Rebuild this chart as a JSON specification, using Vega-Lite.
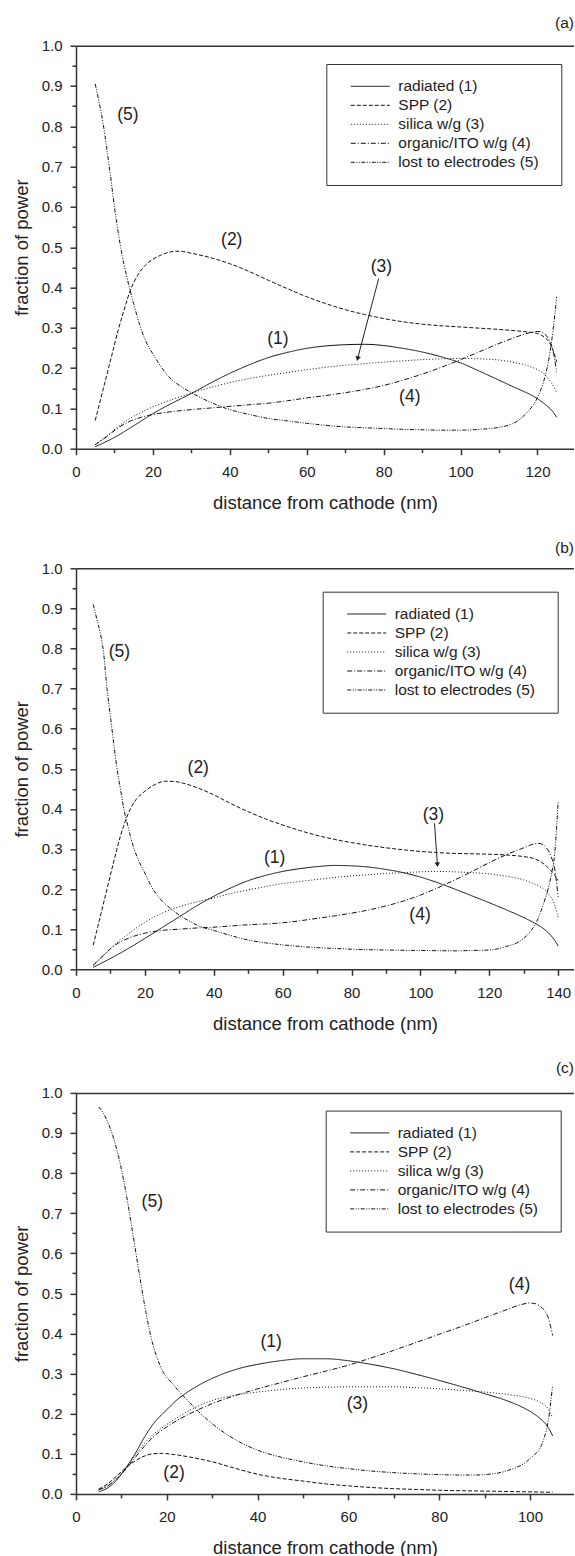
{
"$schema": "https://vega.github.io/schema/vega-lite/v6.json",
"padding": {"left": 12, "top": 15.7, "right": 0, "bottom": 0},
"background": "white",
"spacing": 27.6,
"config": {
  "font": "Liberation Sans",
  "view": {"stroke": null},
  "axis": {"domainColor": "#333", "domainWidth": 1.5, "tickColor": "#333", "tickWidth": 1.5, "labelColor": "#222", "labelFontSize": 15, "titleFontSize": 18.5, "titleFontWeight": "normal", "titleColor": "#222", "grid": false, "labelFont": "Liberation Sans", "titleFont": "Liberation Sans"},
  "title": {"fontSize": 15.5, "fontWeight": "normal", "anchor": "end", "color": "#222", "offset": 6.7, "font": "Liberation Sans"},
  "legend": {"orient": "none", "padding": 13, "strokeColor": "#333", "fillColor": "white", "symbolType": "stroke", "symbolSize": 1521, "symbolStrokeWidth": 1, "symbolStrokeColor": "#111", "labelFontSize": 15.5, "labelColor": "#222", "labelFont": "Liberation Sans", "clipHeight": 18.6, "rowPadding": 0, "symbolOffset": 11, "labelOffset": 8, "titleOrient": "right", "titlePadding": 2, "titleFontSize": 14, "titleOpacity": 0}
},
"resolve": {"scale": {"strokeDash": "independent"}, "legend": {"strokeDash": "independent"}},
"datasets": {
"a": [
{"x":5,"y":0.005,"s":"radiated (1)"},{"x":10,"y":0.028,"s":"radiated (1)"},{"x":15,"y":0.057,"s":"radiated (1)"},{"x":20,"y":0.087,"s":"radiated (1)"},{"x":25,"y":0.113,"s":"radiated (1)"},{"x":30,"y":0.137,"s":"radiated (1)"},{"x":35,"y":0.163,"s":"radiated (1)"},{"x":40,"y":0.187,"s":"radiated (1)"},{"x":45,"y":0.208,"s":"radiated (1)"},{"x":50,"y":0.226,"s":"radiated (1)"},{"x":55,"y":0.239,"s":"radiated (1)"},{"x":60,"y":0.249,"s":"radiated (1)"},{"x":65,"y":0.255,"s":"radiated (1)"},{"x":70,"y":0.258,"s":"radiated (1)"},{"x":75,"y":0.259,"s":"radiated (1)"},{"x":80,"y":0.256,"s":"radiated (1)"},{"x":85,"y":0.249,"s":"radiated (1)"},{"x":90,"y":0.24,"s":"radiated (1)"},{"x":95,"y":0.228,"s":"radiated (1)"},{"x":100,"y":0.213,"s":"radiated (1)"},{"x":105,"y":0.192,"s":"radiated (1)"},{"x":110,"y":0.17,"s":"radiated (1)"},{"x":115,"y":0.148,"s":"radiated (1)"},{"x":118,"y":0.135,"s":"radiated (1)"},{"x":120,"y":0.124,"s":"radiated (1)"},{"x":122,"y":0.11,"s":"radiated (1)"},{"x":124,"y":0.092,"s":"radiated (1)"},{"x":125,"y":0.078,"s":"radiated (1)"},
{"x":5,"y":0.07,"s":"SPP (2)"},{"x":7,"y":0.145,"s":"SPP (2)"},{"x":9,"y":0.22,"s":"SPP (2)"},{"x":11,"y":0.295,"s":"SPP (2)"},{"x":13,"y":0.36,"s":"SPP (2)"},{"x":14,"y":0.39,"s":"SPP (2)"},{"x":15,"y":0.412,"s":"SPP (2)"},{"x":16,"y":0.43,"s":"SPP (2)"},{"x":18,"y":0.455,"s":"SPP (2)"},{"x":20,"y":0.47,"s":"SPP (2)"},{"x":22,"y":0.48,"s":"SPP (2)"},{"x":24,"y":0.487,"s":"SPP (2)"},{"x":26,"y":0.49,"s":"SPP (2)"},{"x":28,"y":0.489,"s":"SPP (2)"},{"x":30,"y":0.485,"s":"SPP (2)"},{"x":35,"y":0.474,"s":"SPP (2)"},{"x":40,"y":0.459,"s":"SPP (2)"},{"x":45,"y":0.44,"s":"SPP (2)"},{"x":50,"y":0.418,"s":"SPP (2)"},{"x":55,"y":0.397,"s":"SPP (2)"},{"x":60,"y":0.377,"s":"SPP (2)"},{"x":65,"y":0.36,"s":"SPP (2)"},{"x":70,"y":0.345,"s":"SPP (2)"},{"x":75,"y":0.333,"s":"SPP (2)"},{"x":80,"y":0.323,"s":"SPP (2)"},{"x":85,"y":0.315,"s":"SPP (2)"},{"x":90,"y":0.309,"s":"SPP (2)"},{"x":95,"y":0.305,"s":"SPP (2)"},{"x":100,"y":0.302,"s":"SPP (2)"},{"x":105,"y":0.299,"s":"SPP (2)"},{"x":110,"y":0.296,"s":"SPP (2)"},{"x":115,"y":0.292,"s":"SPP (2)"},{"x":118,"y":0.289,"s":"SPP (2)"},{"x":120,"y":0.286,"s":"SPP (2)"},{"x":122,"y":0.275,"s":"SPP (2)"},{"x":123,"y":0.265,"s":"SPP (2)"},{"x":124,"y":0.245,"s":"SPP (2)"},{"x":125,"y":0.215,"s":"SPP (2)"},
{"x":5,"y":0.01,"s":"silica w/g (3)"},{"x":8,"y":0.032,"s":"silica w/g (3)"},{"x":11,"y":0.055,"s":"silica w/g (3)"},{"x":14,"y":0.075,"s":"silica w/g (3)"},{"x":17,"y":0.09,"s":"silica w/g (3)"},{"x":20,"y":0.104,"s":"silica w/g (3)"},{"x":25,"y":0.122,"s":"silica w/g (3)"},{"x":30,"y":0.138,"s":"silica w/g (3)"},{"x":35,"y":0.152,"s":"silica w/g (3)"},{"x":40,"y":0.164,"s":"silica w/g (3)"},{"x":45,"y":0.174,"s":"silica w/g (3)"},{"x":50,"y":0.182,"s":"silica w/g (3)"},{"x":55,"y":0.189,"s":"silica w/g (3)"},{"x":60,"y":0.196,"s":"silica w/g (3)"},{"x":65,"y":0.202,"s":"silica w/g (3)"},{"x":70,"y":0.207,"s":"silica w/g (3)"},{"x":75,"y":0.211,"s":"silica w/g (3)"},{"x":80,"y":0.215,"s":"silica w/g (3)"},{"x":85,"y":0.218,"s":"silica w/g (3)"},{"x":90,"y":0.221,"s":"silica w/g (3)"},{"x":95,"y":0.223,"s":"silica w/g (3)"},{"x":100,"y":0.224,"s":"silica w/g (3)"},{"x":105,"y":0.223,"s":"silica w/g (3)"},{"x":110,"y":0.22,"s":"silica w/g (3)"},{"x":115,"y":0.212,"s":"silica w/g (3)"},{"x":118,"y":0.204,"s":"silica w/g (3)"},{"x":120,"y":0.196,"s":"silica w/g (3)"},{"x":122,"y":0.183,"s":"silica w/g (3)"},{"x":123.5,"y":0.165,"s":"silica w/g (3)"},{"x":125,"y":0.14,"s":"silica w/g (3)"},
{"x":5,"y":0.01,"s":"organic/ITO w/g (4)"},{"x":8,"y":0.03,"s":"organic/ITO w/g (4)"},{"x":11,"y":0.052,"s":"organic/ITO w/g (4)"},{"x":14,"y":0.068,"s":"organic/ITO w/g (4)"},{"x":17,"y":0.078,"s":"organic/ITO w/g (4)"},{"x":20,"y":0.085,"s":"organic/ITO w/g (4)"},{"x":25,"y":0.092,"s":"organic/ITO w/g (4)"},{"x":30,"y":0.097,"s":"organic/ITO w/g (4)"},{"x":35,"y":0.101,"s":"organic/ITO w/g (4)"},{"x":40,"y":0.105,"s":"organic/ITO w/g (4)"},{"x":45,"y":0.109,"s":"organic/ITO w/g (4)"},{"x":50,"y":0.113,"s":"organic/ITO w/g (4)"},{"x":55,"y":0.119,"s":"organic/ITO w/g (4)"},{"x":60,"y":0.126,"s":"organic/ITO w/g (4)"},{"x":65,"y":0.132,"s":"organic/ITO w/g (4)"},{"x":70,"y":0.139,"s":"organic/ITO w/g (4)"},{"x":75,"y":0.147,"s":"organic/ITO w/g (4)"},{"x":80,"y":0.157,"s":"organic/ITO w/g (4)"},{"x":85,"y":0.17,"s":"organic/ITO w/g (4)"},{"x":90,"y":0.185,"s":"organic/ITO w/g (4)"},{"x":95,"y":0.202,"s":"organic/ITO w/g (4)"},{"x":100,"y":0.221,"s":"organic/ITO w/g (4)"},{"x":105,"y":0.241,"s":"organic/ITO w/g (4)"},{"x":110,"y":0.261,"s":"organic/ITO w/g (4)"},{"x":115,"y":0.279,"s":"organic/ITO w/g (4)"},{"x":118,"y":0.288,"s":"organic/ITO w/g (4)"},{"x":120,"y":0.291,"s":"organic/ITO w/g (4)"},{"x":121,"y":0.29,"s":"organic/ITO w/g (4)"},{"x":122,"y":0.284,"s":"organic/ITO w/g (4)"},{"x":123,"y":0.27,"s":"organic/ITO w/g (4)"},{"x":124,"y":0.245,"s":"organic/ITO w/g (4)"},{"x":125,"y":0.19,"s":"organic/ITO w/g (4)"},
{"x":5,"y":0.905,"s":"lost to electrodes (5)"},{"x":6,"y":0.86,"s":"lost to electrodes (5)"},{"x":7,"y":0.81,"s":"lost to electrodes (5)"},{"x":8,"y":0.745,"s":"lost to electrodes (5)"},{"x":9,"y":0.675,"s":"lost to electrodes (5)"},{"x":10,"y":0.6,"s":"lost to electrodes (5)"},{"x":11,"y":0.535,"s":"lost to electrodes (5)"},{"x":12,"y":0.48,"s":"lost to electrodes (5)"},{"x":13,"y":0.435,"s":"lost to electrodes (5)"},{"x":14,"y":0.395,"s":"lost to electrodes (5)"},{"x":15,"y":0.36,"s":"lost to electrodes (5)"},{"x":16,"y":0.325,"s":"lost to electrodes (5)"},{"x":17,"y":0.295,"s":"lost to electrodes (5)"},{"x":18,"y":0.27,"s":"lost to electrodes (5)"},{"x":20,"y":0.235,"s":"lost to electrodes (5)"},{"x":22,"y":0.205,"s":"lost to electrodes (5)"},{"x":24,"y":0.18,"s":"lost to electrodes (5)"},{"x":26,"y":0.163,"s":"lost to electrodes (5)"},{"x":28,"y":0.15,"s":"lost to electrodes (5)"},{"x":30,"y":0.139,"s":"lost to electrodes (5)"},{"x":33,"y":0.124,"s":"lost to electrodes (5)"},{"x":36,"y":0.111,"s":"lost to electrodes (5)"},{"x":40,"y":0.097,"s":"lost to electrodes (5)"},{"x":45,"y":0.085,"s":"lost to electrodes (5)"},{"x":50,"y":0.075,"s":"lost to electrodes (5)"},{"x":55,"y":0.069,"s":"lost to electrodes (5)"},{"x":60,"y":0.063,"s":"lost to electrodes (5)"},{"x":65,"y":0.058,"s":"lost to electrodes (5)"},{"x":70,"y":0.054,"s":"lost to electrodes (5)"},{"x":75,"y":0.052,"s":"lost to electrodes (5)"},{"x":80,"y":0.05,"s":"lost to electrodes (5)"},{"x":85,"y":0.048,"s":"lost to electrodes (5)"},{"x":90,"y":0.047,"s":"lost to electrodes (5)"},{"x":95,"y":0.046,"s":"lost to electrodes (5)"},{"x":100,"y":0.046,"s":"lost to electrodes (5)"},{"x":105,"y":0.048,"s":"lost to electrodes (5)"},{"x":110,"y":0.053,"s":"lost to electrodes (5)"},{"x":113,"y":0.06,"s":"lost to electrodes (5)"},{"x":115,"y":0.07,"s":"lost to electrodes (5)"},{"x":117,"y":0.087,"s":"lost to electrodes (5)"},{"x":119,"y":0.11,"s":"lost to electrodes (5)"},{"x":120,"y":0.127,"s":"lost to electrodes (5)"},{"x":121,"y":0.15,"s":"lost to electrodes (5)"},{"x":122,"y":0.18,"s":"lost to electrodes (5)"},{"x":123,"y":0.225,"s":"lost to electrodes (5)"},{"x":124,"y":0.29,"s":"lost to electrodes (5)"},{"x":125,"y":0.377,"s":"lost to electrodes (5)"}
],
"b": [
{"x":5,"y":0.005,"s":"radiated (1)"},{"x":10,"y":0.027,"s":"radiated (1)"},{"x":15,"y":0.051,"s":"radiated (1)"},{"x":20,"y":0.077,"s":"radiated (1)"},{"x":25,"y":0.104,"s":"radiated (1)"},{"x":30,"y":0.131,"s":"radiated (1)"},{"x":35,"y":0.158,"s":"radiated (1)"},{"x":40,"y":0.182,"s":"radiated (1)"},{"x":45,"y":0.203,"s":"radiated (1)"},{"x":50,"y":0.221,"s":"radiated (1)"},{"x":55,"y":0.234,"s":"radiated (1)"},{"x":60,"y":0.244,"s":"radiated (1)"},{"x":65,"y":0.251,"s":"radiated (1)"},{"x":70,"y":0.256,"s":"radiated (1)"},{"x":75,"y":0.259,"s":"radiated (1)"},{"x":80,"y":0.258,"s":"radiated (1)"},{"x":85,"y":0.255,"s":"radiated (1)"},{"x":90,"y":0.249,"s":"radiated (1)"},{"x":95,"y":0.241,"s":"radiated (1)"},{"x":100,"y":0.23,"s":"radiated (1)"},{"x":105,"y":0.216,"s":"radiated (1)"},{"x":110,"y":0.2,"s":"radiated (1)"},{"x":115,"y":0.183,"s":"radiated (1)"},{"x":120,"y":0.166,"s":"radiated (1)"},{"x":125,"y":0.148,"s":"radiated (1)"},{"x":130,"y":0.129,"s":"radiated (1)"},{"x":133,"y":0.116,"s":"radiated (1)"},{"x":135,"y":0.106,"s":"radiated (1)"},{"x":137,"y":0.092,"s":"radiated (1)"},{"x":139,"y":0.072,"s":"radiated (1)"},{"x":140,"y":0.058,"s":"radiated (1)"},
{"x":5,"y":0.06,"s":"SPP (2)"},{"x":7,"y":0.13,"s":"SPP (2)"},{"x":9,"y":0.2,"s":"SPP (2)"},{"x":11,"y":0.27,"s":"SPP (2)"},{"x":13,"y":0.335,"s":"SPP (2)"},{"x":14,"y":0.362,"s":"SPP (2)"},{"x":15,"y":0.385,"s":"SPP (2)"},{"x":17,"y":0.418,"s":"SPP (2)"},{"x":20,"y":0.444,"s":"SPP (2)"},{"x":23,"y":0.461,"s":"SPP (2)"},{"x":26,"y":0.469,"s":"SPP (2)"},{"x":29,"y":0.468,"s":"SPP (2)"},{"x":32,"y":0.462,"s":"SPP (2)"},{"x":36,"y":0.45,"s":"SPP (2)"},{"x":40,"y":0.435,"s":"SPP (2)"},{"x":45,"y":0.413,"s":"SPP (2)"},{"x":50,"y":0.393,"s":"SPP (2)"},{"x":55,"y":0.375,"s":"SPP (2)"},{"x":60,"y":0.36,"s":"SPP (2)"},{"x":65,"y":0.346,"s":"SPP (2)"},{"x":70,"y":0.334,"s":"SPP (2)"},{"x":75,"y":0.324,"s":"SPP (2)"},{"x":80,"y":0.316,"s":"SPP (2)"},{"x":85,"y":0.309,"s":"SPP (2)"},{"x":90,"y":0.303,"s":"SPP (2)"},{"x":95,"y":0.298,"s":"SPP (2)"},{"x":100,"y":0.294,"s":"SPP (2)"},{"x":105,"y":0.291,"s":"SPP (2)"},{"x":110,"y":0.289,"s":"SPP (2)"},{"x":115,"y":0.288,"s":"SPP (2)"},{"x":120,"y":0.287,"s":"SPP (2)"},{"x":125,"y":0.285,"s":"SPP (2)"},{"x":130,"y":0.281,"s":"SPP (2)"},{"x":133,"y":0.276,"s":"SPP (2)"},{"x":135,"y":0.268,"s":"SPP (2)"},{"x":137,"y":0.254,"s":"SPP (2)"},{"x":139,"y":0.235,"s":"SPP (2)"},{"x":140,"y":0.222,"s":"SPP (2)"},
{"x":5,"y":0.01,"s":"silica w/g (3)"},{"x":8,"y":0.035,"s":"silica w/g (3)"},{"x":11,"y":0.06,"s":"silica w/g (3)"},{"x":14,"y":0.08,"s":"silica w/g (3)"},{"x":17,"y":0.1,"s":"silica w/g (3)"},{"x":20,"y":0.117,"s":"silica w/g (3)"},{"x":25,"y":0.14,"s":"silica w/g (3)"},{"x":30,"y":0.156,"s":"silica w/g (3)"},{"x":35,"y":0.168,"s":"silica w/g (3)"},{"x":40,"y":0.178,"s":"silica w/g (3)"},{"x":45,"y":0.189,"s":"silica w/g (3)"},{"x":50,"y":0.198,"s":"silica w/g (3)"},{"x":55,"y":0.206,"s":"silica w/g (3)"},{"x":60,"y":0.214,"s":"silica w/g (3)"},{"x":65,"y":0.219,"s":"silica w/g (3)"},{"x":70,"y":0.224,"s":"silica w/g (3)"},{"x":75,"y":0.229,"s":"silica w/g (3)"},{"x":80,"y":0.233,"s":"silica w/g (3)"},{"x":85,"y":0.236,"s":"silica w/g (3)"},{"x":90,"y":0.239,"s":"silica w/g (3)"},{"x":95,"y":0.241,"s":"silica w/g (3)"},{"x":100,"y":0.243,"s":"silica w/g (3)"},{"x":105,"y":0.244,"s":"silica w/g (3)"},{"x":110,"y":0.243,"s":"silica w/g (3)"},{"x":115,"y":0.241,"s":"silica w/g (3)"},{"x":120,"y":0.238,"s":"silica w/g (3)"},{"x":125,"y":0.232,"s":"silica w/g (3)"},{"x":130,"y":0.223,"s":"silica w/g (3)"},{"x":133,"y":0.213,"s":"silica w/g (3)"},{"x":135,"y":0.205,"s":"silica w/g (3)"},{"x":137,"y":0.19,"s":"silica w/g (3)"},{"x":139,"y":0.16,"s":"silica w/g (3)"},{"x":140,"y":0.13,"s":"silica w/g (3)"},
{"x":5,"y":0.01,"s":"organic/ITO w/g (4)"},{"x":8,"y":0.035,"s":"organic/ITO w/g (4)"},{"x":11,"y":0.058,"s":"organic/ITO w/g (4)"},{"x":14,"y":0.073,"s":"organic/ITO w/g (4)"},{"x":17,"y":0.083,"s":"organic/ITO w/g (4)"},{"x":20,"y":0.09,"s":"organic/ITO w/g (4)"},{"x":25,"y":0.097,"s":"organic/ITO w/g (4)"},{"x":30,"y":0.1,"s":"organic/ITO w/g (4)"},{"x":35,"y":0.103,"s":"organic/ITO w/g (4)"},{"x":40,"y":0.105,"s":"organic/ITO w/g (4)"},{"x":45,"y":0.108,"s":"organic/ITO w/g (4)"},{"x":50,"y":0.111,"s":"organic/ITO w/g (4)"},{"x":55,"y":0.113,"s":"organic/ITO w/g (4)"},{"x":60,"y":0.116,"s":"organic/ITO w/g (4)"},{"x":65,"y":0.121,"s":"organic/ITO w/g (4)"},{"x":70,"y":0.127,"s":"organic/ITO w/g (4)"},{"x":75,"y":0.133,"s":"organic/ITO w/g (4)"},{"x":80,"y":0.14,"s":"organic/ITO w/g (4)"},{"x":85,"y":0.148,"s":"organic/ITO w/g (4)"},{"x":90,"y":0.158,"s":"organic/ITO w/g (4)"},{"x":95,"y":0.17,"s":"organic/ITO w/g (4)"},{"x":100,"y":0.185,"s":"organic/ITO w/g (4)"},{"x":105,"y":0.203,"s":"organic/ITO w/g (4)"},{"x":110,"y":0.223,"s":"organic/ITO w/g (4)"},{"x":115,"y":0.244,"s":"organic/ITO w/g (4)"},{"x":120,"y":0.266,"s":"organic/ITO w/g (4)"},{"x":125,"y":0.286,"s":"organic/ITO w/g (4)"},{"x":130,"y":0.303,"s":"organic/ITO w/g (4)"},{"x":132,"y":0.31,"s":"organic/ITO w/g (4)"},{"x":134,"y":0.314,"s":"organic/ITO w/g (4)"},{"x":135,"y":0.313,"s":"organic/ITO w/g (4)"},{"x":136,"y":0.308,"s":"organic/ITO w/g (4)"},{"x":137,"y":0.298,"s":"organic/ITO w/g (4)"},{"x":138,"y":0.28,"s":"organic/ITO w/g (4)"},{"x":139,"y":0.25,"s":"organic/ITO w/g (4)"},{"x":140,"y":0.18,"s":"organic/ITO w/g (4)"},
{"x":5,"y":0.91,"s":"lost to electrodes (5)"},{"x":6,"y":0.875,"s":"lost to electrodes (5)"},{"x":7,"y":0.84,"s":"lost to electrodes (5)"},{"x":8,"y":0.79,"s":"lost to electrodes (5)"},{"x":9,"y":0.7,"s":"lost to electrodes (5)"},{"x":10,"y":0.63,"s":"lost to electrodes (5)"},{"x":11,"y":0.56,"s":"lost to electrodes (5)"},{"x":12,"y":0.495,"s":"lost to electrodes (5)"},{"x":13,"y":0.445,"s":"lost to electrodes (5)"},{"x":14,"y":0.395,"s":"lost to electrodes (5)"},{"x":15,"y":0.36,"s":"lost to electrodes (5)"},{"x":16,"y":0.325,"s":"lost to electrodes (5)"},{"x":17,"y":0.297,"s":"lost to electrodes (5)"},{"x":18,"y":0.275,"s":"lost to electrodes (5)"},{"x":20,"y":0.24,"s":"lost to electrodes (5)"},{"x":22,"y":0.205,"s":"lost to electrodes (5)"},{"x":24,"y":0.18,"s":"lost to electrodes (5)"},{"x":26,"y":0.162,"s":"lost to electrodes (5)"},{"x":28,"y":0.148,"s":"lost to electrodes (5)"},{"x":30,"y":0.135,"s":"lost to electrodes (5)"},{"x":33,"y":0.12,"s":"lost to electrodes (5)"},{"x":36,"y":0.107,"s":"lost to electrodes (5)"},{"x":40,"y":0.097,"s":"lost to electrodes (5)"},{"x":45,"y":0.084,"s":"lost to electrodes (5)"},{"x":50,"y":0.073,"s":"lost to electrodes (5)"},{"x":55,"y":0.066,"s":"lost to electrodes (5)"},{"x":60,"y":0.061,"s":"lost to electrodes (5)"},{"x":65,"y":0.057,"s":"lost to electrodes (5)"},{"x":70,"y":0.054,"s":"lost to electrodes (5)"},{"x":75,"y":0.052,"s":"lost to electrodes (5)"},{"x":80,"y":0.05,"s":"lost to electrodes (5)"},{"x":90,"y":0.048,"s":"lost to electrodes (5)"},{"x":100,"y":0.047,"s":"lost to electrodes (5)"},{"x":110,"y":0.046,"s":"lost to electrodes (5)"},{"x":115,"y":0.047,"s":"lost to electrodes (5)"},{"x":120,"y":0.048,"s":"lost to electrodes (5)"},{"x":123,"y":0.052,"s":"lost to electrodes (5)"},{"x":125,"y":0.057,"s":"lost to electrodes (5)"},{"x":128,"y":0.066,"s":"lost to electrodes (5)"},{"x":130,"y":0.077,"s":"lost to electrodes (5)"},{"x":132,"y":0.095,"s":"lost to electrodes (5)"},{"x":134,"y":0.123,"s":"lost to electrodes (5)"},{"x":135,"y":0.145,"s":"lost to electrodes (5)"},{"x":136,"y":0.17,"s":"lost to electrodes (5)"},{"x":137,"y":0.198,"s":"lost to electrodes (5)"},{"x":138,"y":0.235,"s":"lost to electrodes (5)"},{"x":139,"y":0.289,"s":"lost to electrodes (5)"},{"x":140,"y":0.418,"s":"lost to electrodes (5)"}
],
"c": [
{"x":5,"y":0.005,"s":"radiated (1)"},{"x":7,"y":0.015,"s":"radiated (1)"},{"x":9,"y":0.035,"s":"radiated (1)"},{"x":11,"y":0.065,"s":"radiated (1)"},{"x":13,"y":0.1,"s":"radiated (1)"},{"x":15,"y":0.14,"s":"radiated (1)"},{"x":17,"y":0.174,"s":"radiated (1)"},{"x":20,"y":0.21,"s":"radiated (1)"},{"x":22,"y":0.232,"s":"radiated (1)"},{"x":25,"y":0.257,"s":"radiated (1)"},{"x":28,"y":0.277,"s":"radiated (1)"},{"x":30,"y":0.288,"s":"radiated (1)"},{"x":33,"y":0.302,"s":"radiated (1)"},{"x":36,"y":0.313,"s":"radiated (1)"},{"x":40,"y":0.323,"s":"radiated (1)"},{"x":45,"y":0.332,"s":"radiated (1)"},{"x":50,"y":0.337,"s":"radiated (1)"},{"x":55,"y":0.337,"s":"radiated (1)"},{"x":60,"y":0.332,"s":"radiated (1)"},{"x":65,"y":0.323,"s":"radiated (1)"},{"x":70,"y":0.312,"s":"radiated (1)"},{"x":75,"y":0.298,"s":"radiated (1)"},{"x":80,"y":0.283,"s":"radiated (1)"},{"x":85,"y":0.267,"s":"radiated (1)"},{"x":90,"y":0.25,"s":"radiated (1)"},{"x":95,"y":0.232,"s":"radiated (1)"},{"x":98,"y":0.218,"s":"radiated (1)"},{"x":100,"y":0.206,"s":"radiated (1)"},{"x":102,"y":0.19,"s":"radiated (1)"},{"x":104,"y":0.166,"s":"radiated (1)"},{"x":105,"y":0.145,"s":"radiated (1)"},
{"x":5,"y":0.012,"s":"SPP (2)"},{"x":7,"y":0.025,"s":"SPP (2)"},{"x":9,"y":0.045,"s":"SPP (2)"},{"x":11,"y":0.065,"s":"SPP (2)"},{"x":13,"y":0.082,"s":"SPP (2)"},{"x":15,"y":0.094,"s":"SPP (2)"},{"x":17,"y":0.1,"s":"SPP (2)"},{"x":19,"y":0.101,"s":"SPP (2)"},{"x":21,"y":0.099,"s":"SPP (2)"},{"x":25,"y":0.092,"s":"SPP (2)"},{"x":30,"y":0.08,"s":"SPP (2)"},{"x":35,"y":0.064,"s":"SPP (2)"},{"x":40,"y":0.049,"s":"SPP (2)"},{"x":45,"y":0.039,"s":"SPP (2)"},{"x":50,"y":0.032,"s":"SPP (2)"},{"x":55,"y":0.025,"s":"SPP (2)"},{"x":60,"y":0.02,"s":"SPP (2)"},{"x":65,"y":0.016,"s":"SPP (2)"},{"x":70,"y":0.013,"s":"SPP (2)"},{"x":75,"y":0.011,"s":"SPP (2)"},{"x":80,"y":0.009,"s":"SPP (2)"},{"x":90,"y":0.007,"s":"SPP (2)"},{"x":100,"y":0.005,"s":"SPP (2)"},{"x":105,"y":0.004,"s":"SPP (2)"},
{"x":5,"y":0.01,"s":"silica w/g (3)"},{"x":7,"y":0.02,"s":"silica w/g (3)"},{"x":9,"y":0.04,"s":"silica w/g (3)"},{"x":11,"y":0.065,"s":"silica w/g (3)"},{"x":13,"y":0.095,"s":"silica w/g (3)"},{"x":15,"y":0.125,"s":"silica w/g (3)"},{"x":17,"y":0.148,"s":"silica w/g (3)"},{"x":20,"y":0.173,"s":"silica w/g (3)"},{"x":23,"y":0.195,"s":"silica w/g (3)"},{"x":26,"y":0.214,"s":"silica w/g (3)"},{"x":30,"y":0.233,"s":"silica w/g (3)"},{"x":35,"y":0.246,"s":"silica w/g (3)"},{"x":40,"y":0.254,"s":"silica w/g (3)"},{"x":45,"y":0.26,"s":"silica w/g (3)"},{"x":50,"y":0.264,"s":"silica w/g (3)"},{"x":55,"y":0.266,"s":"silica w/g (3)"},{"x":60,"y":0.267,"s":"silica w/g (3)"},{"x":65,"y":0.267,"s":"silica w/g (3)"},{"x":70,"y":0.267,"s":"silica w/g (3)"},{"x":75,"y":0.265,"s":"silica w/g (3)"},{"x":80,"y":0.262,"s":"silica w/g (3)"},{"x":85,"y":0.258,"s":"silica w/g (3)"},{"x":90,"y":0.254,"s":"silica w/g (3)"},{"x":95,"y":0.248,"s":"silica w/g (3)"},{"x":98,"y":0.243,"s":"silica w/g (3)"},{"x":100,"y":0.238,"s":"silica w/g (3)"},{"x":102,"y":0.23,"s":"silica w/g (3)"},{"x":104,"y":0.212,"s":"silica w/g (3)"},{"x":105,"y":0.19,"s":"silica w/g (3)"},
{"x":5,"y":0.01,"s":"organic/ITO w/g (4)"},{"x":7,"y":0.02,"s":"organic/ITO w/g (4)"},{"x":9,"y":0.038,"s":"organic/ITO w/g (4)"},{"x":11,"y":0.062,"s":"organic/ITO w/g (4)"},{"x":13,"y":0.09,"s":"organic/ITO w/g (4)"},{"x":15,"y":0.118,"s":"organic/ITO w/g (4)"},{"x":17,"y":0.142,"s":"organic/ITO w/g (4)"},{"x":20,"y":0.167,"s":"organic/ITO w/g (4)"},{"x":23,"y":0.188,"s":"organic/ITO w/g (4)"},{"x":26,"y":0.205,"s":"organic/ITO w/g (4)"},{"x":30,"y":0.225,"s":"organic/ITO w/g (4)"},{"x":35,"y":0.245,"s":"organic/ITO w/g (4)"},{"x":40,"y":0.262,"s":"organic/ITO w/g (4)"},{"x":45,"y":0.277,"s":"organic/ITO w/g (4)"},{"x":50,"y":0.292,"s":"organic/ITO w/g (4)"},{"x":55,"y":0.306,"s":"organic/ITO w/g (4)"},{"x":60,"y":0.321,"s":"organic/ITO w/g (4)"},{"x":65,"y":0.339,"s":"organic/ITO w/g (4)"},{"x":70,"y":0.358,"s":"organic/ITO w/g (4)"},{"x":75,"y":0.378,"s":"organic/ITO w/g (4)"},{"x":80,"y":0.398,"s":"organic/ITO w/g (4)"},{"x":85,"y":0.418,"s":"organic/ITO w/g (4)"},{"x":90,"y":0.439,"s":"organic/ITO w/g (4)"},{"x":95,"y":0.46,"s":"organic/ITO w/g (4)"},{"x":98,"y":0.472,"s":"organic/ITO w/g (4)"},{"x":100,"y":0.476,"s":"organic/ITO w/g (4)"},{"x":101,"y":0.475,"s":"organic/ITO w/g (4)"},{"x":102,"y":0.47,"s":"organic/ITO w/g (4)"},{"x":103,"y":0.46,"s":"organic/ITO w/g (4)"},{"x":104,"y":0.44,"s":"organic/ITO w/g (4)"},{"x":105,"y":0.395,"s":"organic/ITO w/g (4)"},
{"x":5,"y":0.965,"s":"lost to electrodes (5)"},{"x":6,"y":0.95,"s":"lost to electrodes (5)"},{"x":7,"y":0.927,"s":"lost to electrodes (5)"},{"x":8,"y":0.897,"s":"lost to electrodes (5)"},{"x":9,"y":0.858,"s":"lost to electrodes (5)"},{"x":10,"y":0.81,"s":"lost to electrodes (5)"},{"x":11,"y":0.752,"s":"lost to electrodes (5)"},{"x":12,"y":0.685,"s":"lost to electrodes (5)"},{"x":13,"y":0.615,"s":"lost to electrodes (5)"},{"x":14,"y":0.545,"s":"lost to electrodes (5)"},{"x":15,"y":0.478,"s":"lost to electrodes (5)"},{"x":16,"y":0.418,"s":"lost to electrodes (5)"},{"x":17,"y":0.37,"s":"lost to electrodes (5)"},{"x":18,"y":0.335,"s":"lost to electrodes (5)"},{"x":19,"y":0.308,"s":"lost to electrodes (5)"},{"x":21,"y":0.278,"s":"lost to electrodes (5)"},{"x":23,"y":0.252,"s":"lost to electrodes (5)"},{"x":25,"y":0.228,"s":"lost to electrodes (5)"},{"x":27,"y":0.205,"s":"lost to electrodes (5)"},{"x":30,"y":0.175,"s":"lost to electrodes (5)"},{"x":35,"y":0.136,"s":"lost to electrodes (5)"},{"x":40,"y":0.109,"s":"lost to electrodes (5)"},{"x":45,"y":0.092,"s":"lost to electrodes (5)"},{"x":50,"y":0.08,"s":"lost to electrodes (5)"},{"x":55,"y":0.07,"s":"lost to electrodes (5)"},{"x":60,"y":0.063,"s":"lost to electrodes (5)"},{"x":65,"y":0.057,"s":"lost to electrodes (5)"},{"x":70,"y":0.053,"s":"lost to electrodes (5)"},{"x":75,"y":0.05,"s":"lost to electrodes (5)"},{"x":80,"y":0.048,"s":"lost to electrodes (5)"},{"x":85,"y":0.047,"s":"lost to electrodes (5)"},{"x":88,"y":0.047,"s":"lost to electrodes (5)"},{"x":90,"y":0.048,"s":"lost to electrodes (5)"},{"x":93,"y":0.052,"s":"lost to electrodes (5)"},{"x":95,"y":0.058,"s":"lost to electrodes (5)"},{"x":97,"y":0.066,"s":"lost to electrodes (5)"},{"x":99,"y":0.078,"s":"lost to electrodes (5)"},{"x":100,"y":0.088,"s":"lost to electrodes (5)"},{"x":101,"y":0.098,"s":"lost to electrodes (5)"},{"x":102,"y":0.11,"s":"lost to electrodes (5)"},{"x":103,"y":0.135,"s":"lost to electrodes (5)"},{"x":104,"y":0.18,"s":"lost to electrodes (5)"},{"x":105,"y":0.271,"s":"lost to electrodes (5)"}
],
"la": [{"x":13.5,"y":0.828,"t":"(5)"},{"x":40.5,"y":0.519,"t":"(2)"},{"x":79.4,"y":0.451,"t":"(3)"},{"x":52.5,"y":0.273,"t":"(1)"},{"x":86.8,"y":0.128,"t":"(4)"}],
"lb": [{"x":12.6,"y":0.792,"t":"(5)"},{"x":35.5,"y":0.502,"t":"(2)"},{"x":103.8,"y":0.385,"t":"(3)"},{"x":57.7,"y":0.277,"t":"(1)"},{"x":99.9,"y":0.135,"t":"(4)"}],
"lc": [{"x":16.8,"y":0.728,"t":"(5)"},{"x":43,"y":0.38,"t":"(1)"},{"x":97.7,"y":0.522,"t":"(4)"},{"x":62,"y":0.223,"t":"(3)"},{"x":21.6,"y":0.052,"t":"(2)"}],
"aa": [{"x":78.7,"y":0.422,"x2":73.23,"y2":0.2234}],
"ab": [{"x":104.1,"y":0.364,"x2":104.93,"y2":0.2607}]
},
"vconcat": [
{
 "title": {"text": "(a)", "offset": 6.7},
 "width": 498, "height": 403,
 "resolve": {"axis": {"x": "independent", "y": "independent"}},
 "layer": [
  {"data": {"name": "a"},
   "mark": {"type": "line", "interpolate": "monotone", "strokeWidth": 1, "color": "#111"},
   "encoding": {
    "x": {"field": "x", "type": "quantitative", "scale": {"domain": [0, 129.5], "nice": false, "zero": false},
      "axis": {"values": [0,10,20,30,40,50,60,70,80,90,100,110,120], "labelExpr": "datum.value % 20 === 0 ? datum.label : ''", "tickSize": {"condition": {"test": "datum.value % 20 === 0", "value": 6}, "value": 4}, "labelPadding": 10, "labelFlush": false, "labelOverlap": false, "title": "distance from cathode (nm)", "titlePadding": 14}},
    "y": {"field": "y", "type": "quantitative", "scale": {"domain": [0, 1], "nice": false},
      "axis": {"values": [0,0.05,0.1,0.15,0.2,0.25,0.3,0.35,0.4,0.45,0.5,0.55,0.6,0.65,0.7,0.75,0.8,0.85,0.9,0.95,1], "labelExpr": "round(datum.value*100) % 10 === 0 ? format(datum.value, '.1f') : ''", "tickSize": {"condition": {"test": "round(datum.value*100) % 10 === 0", "value": 6}, "value": 4}, "labelPadding": 8, "labelFlush": false, "labelOverlap": false, "title": "fraction of power", "titlePadding": 10}},
    "strokeDash": {"field": "s", "type": "nominal",
      "scale": {"domain": ["radiated (1)", "SPP (2)", "silica w/g (3)", "organic/ITO w/g (4)", "lost to electrodes (5)"], "range": [[1,0],[4,2],[1,2],[5,2,1,2],[4,1.5,1,1.5,1,1.5]]},
      "legend": {"title": "..", "legendX": 250.3, "legendY": 18.3}}
   }},
  {"data": {"name": "la"},
   "mark": {"type": "text", "fontSize": 17.5, "color": "#222", "align": "center", "baseline": "middle"},
   "encoding": {
    "x": {"field": "x", "type": "quantitative", "axis": {"orient": "top", "labels": false, "ticks": false, "title": null}},
    "y": {"field": "y", "type": "quantitative", "axis": null},
    "text": {"field": "t"}}},
  {"data": {"name": "aa"},
   "mark": {"type": "rule", "color": "#222", "strokeWidth": 1},
   "encoding": {"x": {"field": "x", "type": "quantitative", "axis": null}, "y": {"field": "y", "type": "quantitative", "axis": null}, "x2": {"field": "x2"}, "y2": {"field": "y2"}}},
  {"data": {"name": "aa"},
   "mark": {"type": "point", "shape": "triangle-down", "filled": true, "color": "#222", "size": 30, "angle": 14.7, "opacity": 1},
   "encoding": {"x": {"field": "x2", "type": "quantitative", "axis": null}, "y": {"field": "y2", "type": "quantitative", "axis": null}}}
 ]
},
{
 "title": {"text": "(b)", "offset": 5},
 "width": 498, "height": 401,
 "resolve": {"axis": {"x": "independent", "y": "independent"}},
 "layer": [
  {"data": {"name": "b"},
   "mark": {"type": "line", "interpolate": "monotone", "strokeWidth": 1, "color": "#111"},
   "encoding": {
    "x": {"field": "x", "type": "quantitative", "scale": {"domain": [0, 144.6], "nice": false, "zero": false},
      "axis": {"values": [0,10,20,30,40,50,60,70,80,90,100,110,120,130,140], "labelExpr": "datum.value % 20 === 0 ? datum.label : ''", "tickSize": {"condition": {"test": "datum.value % 20 === 0", "value": 6}, "value": 4}, "labelPadding": 10, "labelFlush": false, "labelOverlap": false, "title": "distance from cathode (nm)", "titlePadding": 14}},
    "y": {"field": "y", "type": "quantitative", "scale": {"domain": [0, 1], "nice": false},
      "axis": {"values": [0,0.05,0.1,0.15,0.2,0.25,0.3,0.35,0.4,0.45,0.5,0.55,0.6,0.65,0.7,0.75,0.8,0.85,0.9,0.95,1], "labelExpr": "round(datum.value*100) % 10 === 0 ? format(datum.value, '.1f') : ''", "tickSize": {"condition": {"test": "round(datum.value*100) % 10 === 0", "value": 6}, "value": 4}, "labelPadding": 8, "labelFlush": false, "labelOverlap": false, "title": "fraction of power", "titlePadding": 10}},
    "strokeDash": {"field": "s", "type": "nominal",
      "scale": {"domain": ["radiated (1)", "SPP (2)", "silica w/g (3)", "organic/ITO w/g (4)", "lost to electrodes (5)"], "range": [[1,0],[4,2],[1,2],[5,2,1,2],[4,1.5,1,1.5,1,1.5]]},
      "legend": {"title": "..", "legendX": 246.7, "legendY": 23.4}}
   }},
  {"data": {"name": "lb"},
   "mark": {"type": "text", "fontSize": 17.5, "color": "#222", "align": "center", "baseline": "middle"},
   "encoding": {
    "x": {"field": "x", "type": "quantitative", "axis": {"orient": "top", "labels": false, "ticks": false, "title": null}},
    "y": {"field": "y", "type": "quantitative", "axis": null},
    "text": {"field": "t"}}},
  {"data": {"name": "ab"},
   "mark": {"type": "rule", "color": "#222", "strokeWidth": 1},
   "encoding": {"x": {"field": "x", "type": "quantitative", "axis": null}, "y": {"field": "y", "type": "quantitative", "axis": null}, "x2": {"field": "x2"}, "y2": {"field": "y2"}}},
  {"data": {"name": "ab"},
   "mark": {"type": "point", "shape": "triangle-down", "filled": true, "color": "#222", "size": 30, "angle": -4, "opacity": 1},
   "encoding": {"x": {"field": "x2", "type": "quantitative", "axis": null}, "y": {"field": "y2", "type": "quantitative", "axis": null}}}
 ]
},
{
 "title": {"text": "(c)", "offset": 9.4},
 "width": 498, "height": 401,
 "resolve": {"axis": {"x": "independent", "y": "independent"}},
 "layer": [
  {"data": {"name": "c"},
   "mark": {"type": "line", "interpolate": "monotone", "strokeWidth": 1, "color": "#111"},
   "encoding": {
    "x": {"field": "x", "type": "quantitative", "scale": {"domain": [0, 109.7], "nice": false, "zero": false},
      "axis": {"values": [0,10,20,30,40,50,60,70,80,90,100], "labelExpr": "datum.value % 20 === 0 ? datum.label : ''", "tickSize": {"condition": {"test": "datum.value % 20 === 0", "value": 6}, "value": 4}, "labelPadding": 10, "labelFlush": false, "labelOverlap": false, "title": "distance from cathode (nm)", "titlePadding": 14}},
    "y": {"field": "y", "type": "quantitative", "scale": {"domain": [0, 1], "nice": false},
      "axis": {"values": [0,0.05,0.1,0.15,0.2,0.25,0.3,0.35,0.4,0.45,0.5,0.55,0.6,0.65,0.7,0.75,0.8,0.85,0.9,0.95,1], "labelExpr": "round(datum.value*100) % 10 === 0 ? format(datum.value, '.1f') : ''", "tickSize": {"condition": {"test": "round(datum.value*100) % 10 === 0", "value": 6}, "value": 4}, "labelPadding": 8, "labelFlush": false, "labelOverlap": false, "title": "fraction of power", "titlePadding": 10}},
    "strokeDash": {"field": "s", "type": "nominal",
      "scale": {"domain": ["radiated (1)", "SPP (2)", "silica w/g (3)", "organic/ITO w/g (4)", "lost to electrodes (5)"], "range": [[1,0],[4,2],[1,2],[5,2,1,2],[4,1.5,1,1.5,1,1.5]]},
      "legend": {"title": "..", "legendX": 249.7, "legendY": 17.7}}
   }},
  {"data": {"name": "lc"},
   "mark": {"type": "text", "fontSize": 17.5, "color": "#222", "align": "center", "baseline": "middle"},
   "encoding": {
    "x": {"field": "x", "type": "quantitative", "axis": {"orient": "top", "labels": false, "ticks": false, "title": null}},
    "y": {"field": "y", "type": "quantitative", "axis": null},
    "text": {"field": "t"}}}
 ]
}
]
}
